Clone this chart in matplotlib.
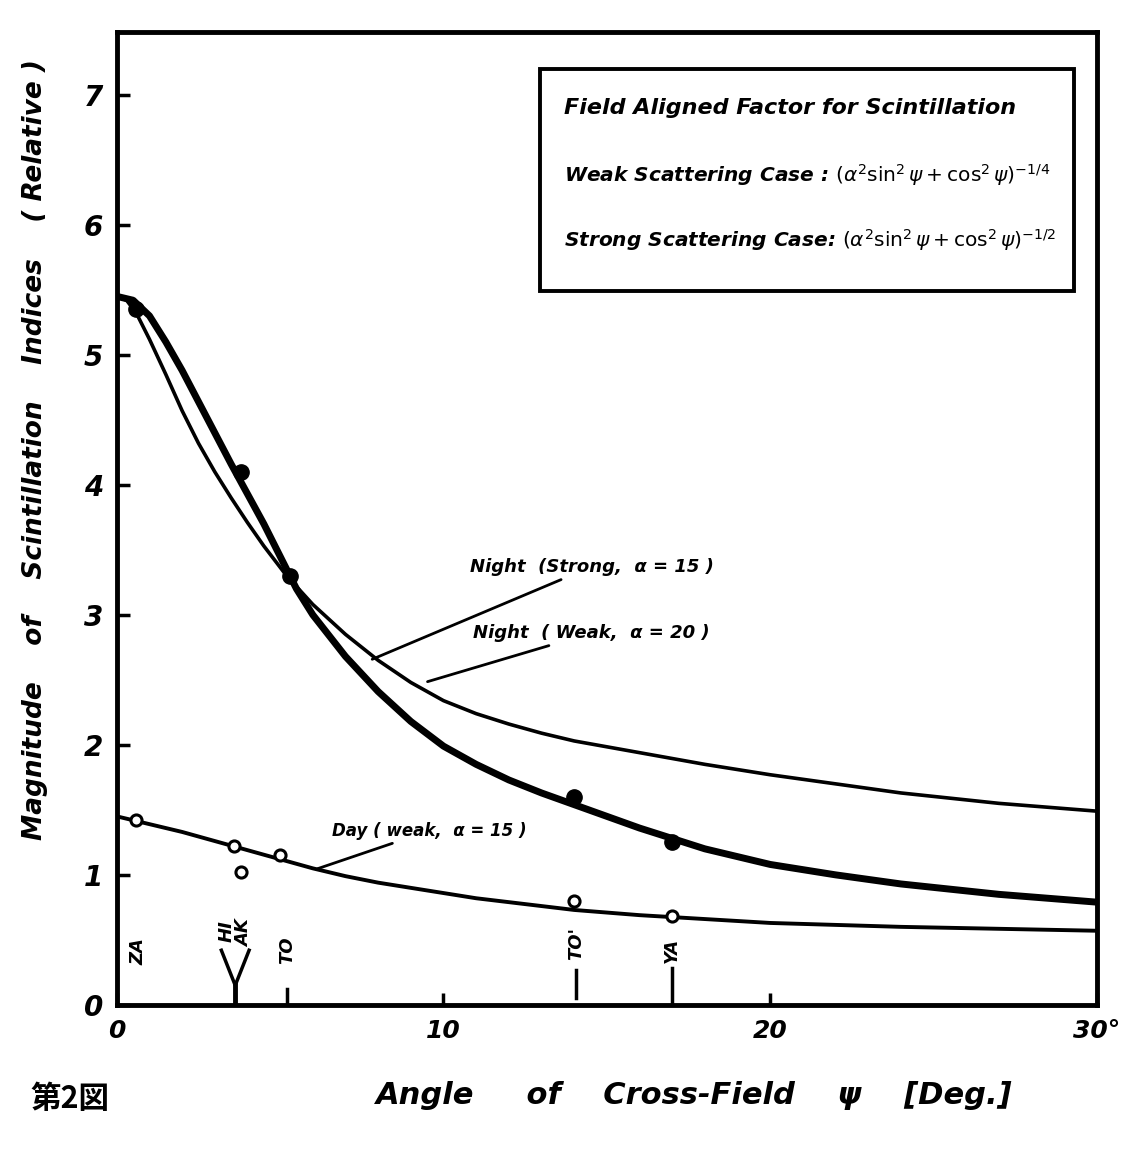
import matplotlib
matplotlib.use("Agg")
import matplotlib.pyplot as plt
from matplotlib.patches import Rectangle

plt.rcParams["font.family"] = ["DejaVu Sans", "Noto Sans CJK JP"]
plt.rcParams["mathtext.fontset"] = "dejavusans"

# night, strong scattering (thick curve)
strong_x = [0, 0.5, 1, 1.5, 2, 2.5, 3, 3.5, 4, 4.5, 5, 5.5, 6, 7, 8, 9, 10,
            11, 12, 13, 14, 16, 18, 20, 22, 24, 27, 30]
strong_y = [5.45, 5.42, 5.3, 5.1, 4.88, 4.64, 4.4, 4.16, 3.93, 3.7, 3.45, 3.2,
            3.0, 2.68, 2.41, 2.18, 1.99, 1.85, 1.73, 1.63, 1.54, 1.36, 1.2,
            1.08, 1.0, 0.93, 0.85, 0.79]

# night, weak scattering (thin curve)
weak_x = [0, 0.3, 0.6, 1, 1.5, 2, 2.5, 3, 3.5, 4, 4.5, 5.2, 6, 7, 8, 9, 10,
          11, 12, 13, 14, 16, 18, 20, 22, 24, 27, 30]
weak_y = [5.45, 5.42, 5.32, 5.12, 4.85, 4.57, 4.32, 4.1, 3.9, 3.71, 3.53, 3.3,
          3.08, 2.85, 2.65, 2.48, 2.34, 2.24, 2.16, 2.09, 2.03, 1.94, 1.85,
          1.77, 1.7, 1.63, 1.55, 1.49]

# day, weak scattering
day_x = [0, 1, 2, 3, 4, 5, 6, 7, 8, 9, 10, 11, 12, 13, 14, 15, 16, 18, 20,
         22, 24, 27, 30]
day_y = [1.45, 1.39, 1.33, 1.26, 1.19, 1.12, 1.05, 0.99, 0.94, 0.9, 0.86, 0.82,
         0.79, 0.76, 0.73, 0.71, 0.69, 0.66, 0.63, 0.615, 0.6, 0.585, 0.57]

# observed values
night_obs_x = [0.6, 3.8, 5.3, 14.0, 17.0]
night_obs_y = [5.35, 4.1, 3.3, 1.6, 1.25]
day_obs_x = [0.6, 3.6, 3.8, 5.0, 14.0, 17.0]
day_obs_y = [1.42, 1.22, 1.02, 1.15, 0.8, 0.68]

# stations along the angle axis
stations = ["ZA", "HI", "AK", "TO", "TO'", "YA"]
station_x = [0.65, 3.35, 3.9, 5.2, 14.05, 17.0]

fig = plt.figure(figsize=(11.45, 11.59), dpi=100)
ax = fig.add_axes([0.102, 0.133, 0.856, 0.839])

ax.plot(strong_x, strong_y, color="black", lw=5.0, solid_capstyle="round",
        solid_joinstyle="round")
ax.plot(weak_x, weak_y, color="black", lw=2.6, solid_capstyle="round",
        solid_joinstyle="round")
ax.plot(day_x, day_y, color="black", lw=2.8, solid_capstyle="round",
        solid_joinstyle="round")

ax.plot(night_obs_x, night_obs_y, "o", color="black", ms=11)
ax.plot(day_obs_x, day_obs_y, "o", mfc="white", mec="black", mew=2.2, ms=8)

ax.set_xlim(0, 30)
ax.set_ylim(0, 7.48)

hand = dict(style="italic", weight="bold")

ax.set_xticks([0, 10, 20, 30])
ax.set_xticklabels(["0", "10", "20", "30°"], fontsize=18, **hand)
ax.set_yticks(range(0, 8))
ax.set_yticklabels([str(i) for i in range(0, 8)], fontsize=20, **hand)
ax.tick_params(direction="in", length=9, width=2.5, pad=10)
for s in ax.spines.values():
    s.set_linewidth(3.5)

# legend box with the formulas
ax.add_patch(Rectangle((12.95, 5.49), 16.35, 1.71, fill=False, lw=2.8,
                       edgecolor="black", zorder=5))
ax.text(13.7, 6.9, "Field Aligned Factor for Scintillation", fontsize=16,
        va="center", **hand)
ax.text(13.7, 6.38, r"Weak Scattering Case : $(\alpha^2\sin^2\psi+\cos^2\psi)^{-1/4}$",
        fontsize=14.5, va="center", **hand)
ax.text(13.7, 5.88, r"Strong Scattering Case: $(\alpha^2\sin^2\psi+\cos^2\psi)^{-1/2}$",
        fontsize=14.5, va="center", **hand)

# curve labels
arrow = dict(arrowstyle="-", color="black", lw=2.0)
ax.annotate("Night  (Strong,  α = 15 )", xy=(7.74, 2.65), xytext=(10.8, 3.37),
            fontsize=13, va="center", arrowprops=arrow, **hand)
ax.annotate("Night  ( Weak,  α = 20 )", xy=(9.43, 2.48), xytext=(10.9, 2.86),
            fontsize=13, va="center", arrowprops=arrow, **hand)
ax.annotate("Day ( weak,  α = 15 )", xy=(6.06, 1.04), xytext=(6.6, 1.34),
            fontsize=12, va="center", arrowprops=arrow, **hand)

# station labels and markers
label_y = [0.41, 0.57, 0.55, 0.42, 0.47, 0.42]
for name, sx, ly in zip(stations, station_x, label_y):
    ax.text(sx, ly, name, rotation=90, fontsize=13, ha="center", va="center", **hand)
hi_x, ak_x = station_x[1], station_x[2]
mid = (hi_x + ak_x) / 2
ax.plot([hi_x - 0.15, mid, ak_x + 0.15], [0.42, 0.15, 0.42], color="black", lw=2.5)
ax.plot([mid, mid], [0, 0.15], color="black", lw=3.5)
ax.plot([station_x[3], station_x[3]], [0, 0.12], color="black", lw=2.5)
ax.plot([station_x[4], station_x[4]], [0.05, 0.27], color="black", lw=2.5)
ax.plot([station_x[5], station_x[5]], [0, 0.28], color="black", lw=2.5)

fig.text(0.031, 0.612, "Magnitude    of    Scintillation    Indices    ( Relative )",
         rotation=90, fontsize=19, ha="center", va="center", **hand)
fig.text(0.606, 0.055, "Angle     of    Cross-Field    ψ    [Deg.]",
         fontsize=22, ha="center", va="center", **hand)
fig.text(0.061, 0.052, "第2図", fontsize=22, ha="center", va="center",
         family=["Noto Sans CJK JP", "DejaVu Sans"], weight="bold")

fig.savefig("out.png", dpi=100)
